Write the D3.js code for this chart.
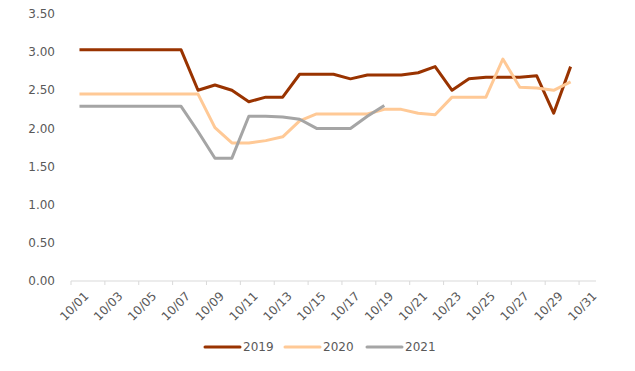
<!DOCTYPE html>
<html>
<head>
<meta charset="utf-8">
<script src="https://cdn.jsdelivr.net/npm/d3@7"></script>
<style>
  body { margin: 0; background: #fff; }
  svg text { font-family: "DejaVu Sans", sans-serif; fill: #595959; }
</style>
</head>
<body>
<div id="chart"></div>
<script>
// categories: 10/01 .. 10/31
const days = ["10/01","10/02","10/03","10/04","10/05","10/06","10/07","10/08","10/09","10/10",
  "10/11","10/12","10/13","10/14","10/15","10/16","10/17","10/18","10/19","10/20",
  "10/21","10/22","10/23","10/24","10/25","10/26","10/27","10/28","10/29","10/30","10/31"];

const s2019 = [3.03,3.03,3.03,3.03,3.03,3.03,3.03,2.50,2.57,2.50,
  2.35,2.41,2.41,2.71,2.71,2.71,2.65,2.70,2.70,2.70,
  2.73,2.81,2.50,2.65,2.67,2.67,2.67,2.69,2.20,2.81,null];
const s2020 = [2.45,2.45,2.45,2.45,2.45,2.45,2.45,2.45,2.01,1.81,
  1.81,1.84,1.89,2.10,2.19,2.19,2.19,2.19,2.25,2.25,
  2.20,2.18,2.41,2.41,2.41,2.91,2.54,2.53,2.50,2.61,null];
const s2021 = [2.29,2.29,2.29,2.29,2.29,2.29,2.29,1.96,1.61,1.61,
  2.16,2.16,2.15,2.12,2.00,2.00,2.00,2.16,2.30,null,
  null,null,null,null,null,null,null,null,null,null,null];

const yTicks = [0, 0.5, 1, 1.5, 2, 2.5, 3, 3.5];
const seriesNames = ["2019", "2020", "2021"];
const seriesColors = ["#993300", "#FFC996", "#A5A5A5"];

const width = 635, height = 371;
const margin = {top: 14, right: 39, bottom: 90, left: 71};

const svg = d3.select("#chart").append("svg")
  .attr("width", width)
  .attr("height", height);

const x = d3.scaleBand()
  .domain(days)
  .range([margin.left, width - margin.right])
  .padding(0);

const y = d3.scaleLinear()
  .domain([0, 3.5])
  .range([height - margin.bottom, margin.top]);

// y labels, no axis line
svg.append("g")
  .selectAll("text")
  .data(yTicks)
  .enter().append("text")
  .attr("x", 55)
  .attr("y", d => y(d))
  .attr("dy", "0.35em")
  .attr("text-anchor", "end")
  .attr("font-size", "12px")
  .text(d => d.toFixed(2));

// x axis line + ticks between categories, every second one
const xAxis = svg.append("g");
xAxis.append("line")
  .attr("x1", x.range()[0]).attr("x2", x.range()[1])
  .attr("y1", y(0)).attr("y2", y(0))
  .attr("stroke", "#D9D9D9").attr("stroke-width", 1);
xAxis.selectAll(".tick")
  .data(days.filter((d, i) => i % 2 === 0))
  .enter().append("line")
  .attr("x1", d => x(d)).attr("x2", d => x(d))
  .attr("y1", y(0)).attr("y2", y(0) + 4)
  .attr("stroke", "#D9D9D9");
xAxis.selectAll(".lbl")
  .data(days.filter((d, i) => i % 2 === 0))
  .enter().append("text")
  .attr("transform", d => `translate(${x(d) + x.bandwidth() / 2 + 4},${y(0) + 10}) rotate(-45)`)
  .attr("text-anchor", "end")
  .attr("dy", "0.7em")
  .attr("font-size", "12px")
  .text(d => d);

const line = d3.line()
  .defined(d => d != null)
  .x((d, i) => x(days[i]) + x.bandwidth() / 2)
  .y(d => y(d));

[s2019, s2020, s2021].forEach((s, k) => {
  svg.append("path")
    .datum(s)
    .attr("fill", "none")
    .attr("stroke", seriesColors[k])
    .attr("stroke-width", 3)
    .attr("stroke-linejoin", "round")
    .attr("d", line);
});

// draw 2019 on top of others? keep 2021 last like reference
// legend
const legendX = [205, 285, 367];
const legend = svg.append("g");
seriesNames.forEach((n, k) => {
  legend.append("line")
    .attr("x1", legendX[k]).attr("x2", legendX[k] + 35)
    .attr("y1", 347).attr("y2", 347)
    .attr("stroke", seriesColors[k])
    .attr("stroke-width", 3)
    .attr("stroke-linecap", "round");
  legend.append("text")
    .attr("x", legendX[k] + 38)
    .attr("y", 347)
    .attr("dy", "0.35em")
    .attr("font-size", "12px")
    .text(n);
});
</script>
</body>
</html>
